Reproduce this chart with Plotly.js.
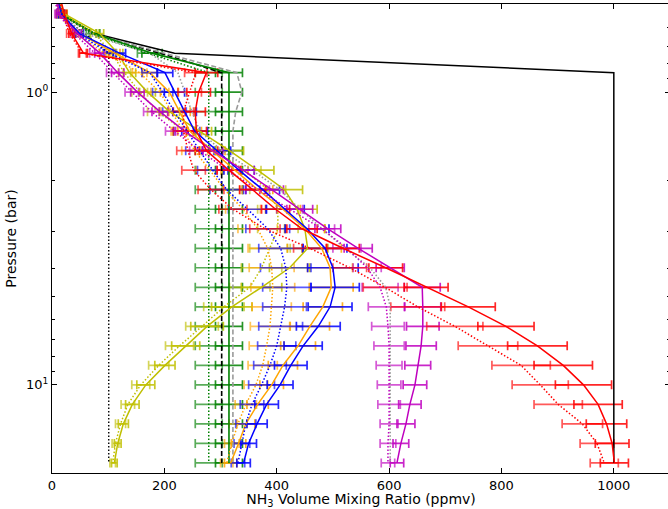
<!DOCTYPE html>
<html>
<head>
<meta charset="utf-8">
<script src="https://cdn.plot.ly/plotly-3.0.1.min.js"></script>
<style>
html,body{margin:0;padding:0;overflow:hidden;background:#fff;}
#chart{width:670px;height:509px;}
</style>
</head>
<body>
<div id="chart"></div>
<script>
// Pressure levels (bar)
const pressure = [0.464, 0.541, 0.631, 0.736, 0.858, 1.000, 1.166, 1.359, 1.585, 1.848, 2.154, 2.512, 2.929, 3.415, 3.981, 4.642, 5.412, 6.310, 7.356, 8.577, 10.00, 11.66, 13.59, 15.85, 18.48];

// NH3 profiles (ppmv)
const redSolid     = [13, 22, 35, 56, 275, 261, 255, 257, 275, 315, 357, 398, 445, 518, 594, 666, 741, 808, 864, 910, 946, 972, 987, 997, 1001];
const redDotted    = [10, 19, 31, 54, 256, 245, 234, 234, 242, 252, 283, 322, 379, 459, 530, 593, 651, 717, 776, 835, 869, 901, 944, 970, 983];
const magSolid     = [6, 13, 45, 85, 117, 152, 192, 236, 286, 340, 391, 441, 491, 545, 602, 659, 660, 660, 657, 651, 646, 637, 630, 621, 614];
const magDotted    = [4, 10, 40, 76, 108, 142, 177, 218, 263, 313, 366, 423, 480, 525, 561, 584, 595, 598, 600, 600, 600, 600, 600, 598, 598];
const blueSolid    = [8, 17, 49, 120, 201, 218, 236, 254, 293, 333, 375, 415, 454, 486, 500, 504, 495, 474, 447, 425, 406, 382, 365, 350, 341];
const blueDotted   = [6, 13, 45, 102, 174, 197, 218, 240, 263, 286, 311, 348, 384, 407, 416, 418, 414, 407, 400, 388, 373, 356, 345, 338, 331];
const orangeSolid  = [8, 15, 49, 111, 174, 209, 227, 245, 285, 325, 366, 411, 450, 480, 495, 497, 482, 459, 438, 411, 391, 366, 345, 332, 318];
const orangeDotted = [6, 12, 42, 94, 156, 192, 213, 233, 254, 281, 307, 340, 366, 384, 391, 393, 391, 388, 382, 375, 363, 345, 331, 320, 311];
const oliveSolid   = [10, 22, 85, 117, 138, 170, 209, 263, 316, 366, 414, 436, 450, 455, 423, 373, 320, 276, 238, 201, 167, 143, 127, 117, 111];
const oliveDotted  = [8, 19, 76, 106, 129, 156, 188, 236, 290, 343, 384, 402, 402, 388, 373, 352, 306, 267, 227, 190, 158, 135, 122, 113, 108];
const greenSolid   = [8, 17, 76, 178, 315, 315, 315, 315, 315, 315, 315, 315, 315, 315, 315, 315, 315, 315, 315, 315, 315, 315, 315, 315, 315];
const greenDotted  = [8, 15, 70, 170, 279, 279, 279, 279, 279, 279, 279, 279, 279, 279, 279, 279, 279, 279, 279, 279, 279, 279, 279, 279, 279];
const grayDashed   = [8, 17, 70, 200, 329, 338, 327, 322, 322, 322, 322, 322, 322, 322, 322, 322, 322, 322, 322, 322, 322, 322, 322, 322, 322];
const grayDotted   = [6, 13, 58, 174, 224, 236, 249, 263, 302, 356, 406, 441, 482, 521, 566, 594, 602, 602, 602, 602, 602, 602, 602, 602, 602];
const blackSolid   = [6, 15, 76, 218, 1000, 1000, 1000, 1000, 1000, 1000, 1000, 1000, 1000, 1000, 1000, 1000, 1000, 1000, 1000, 1000, 1000, 1000, 1000, 1000, 1000];
const blackDashed  = [8, 17, 72, 192, 302, 302, 302, 302, 302, 302, 302, 302, 302, 302, 302, 302, 302, 302, 302, 302, 302, 302, 302, 302, 302];
const blackDotted  = [4, 13, 58, 101, 101, 101, 101, 101, 101, 101, 101, 101, 101, 101, 101, 101, 101, 101, 101, 101, 101, 101, 101, 101, 101];

// Error-bar half widths (ppmv)
const redErr    = [2, 4, 5, 7, 20, 21, 18, 18, 20, 21, 23, 25, 27, 29, 30, 39, 48, 50, 53, 52, 50, 43, 36, 30, 25];
const magErr    = [2, 5, 7, 9, 11, 12, 14, 16, 18, 20, 21, 23, 23, 25, 25, 32, 32, 29, 27, 23, 21, 20, 16, 14, 12];
const blueErr   = [2, 5, 7, 11, 14, 18, 21, 23, 25, 27, 30, 34, 39, 39, 45, 43, 39, 39, 34, 29, 23, 21, 18, 14, 12];
const orangeErr = [2, 5, 6, 10, 13, 16, 19, 21, 23, 24, 27, 31, 35, 35, 40, 39, 35, 35, 31, 26, 21, 19, 16, 13, 11];
const oliveErr  = [2, 5, 7, 9, 11, 14, 18, 21, 25, 29, 32, 36, 36, 36, 36, 36, 36, 29, 25, 18, 16, 12, 9, 6, 5];
const greenErr  = [2, 5, 9, 18, 24, 24, 24, 24, 24, 24, 24, 24, 24, 24, 24, 24, 24, 24, 24, 24, 24, 24, 24, 24, 24];

const xTicks = [0, 200, 400, 600, 800, 1000];
const yTicks = [1, 10];
const yTickText = ['10<sup>0</sup>', '10<sup>1</sup>'];
const yMinor = [0.6, 0.7, 0.8, 0.9, 2, 3, 4, 5, 6, 7, 8, 9, 20];

const traces = [];
function bars(x, err, rgb, alpha) {
  traces.push({
    x: x, y: pressure, type: 'scatter', mode: 'markers', hoverinfo: 'skip',
    marker: {size: 1, color: 'rgba(0,0,0,0)'},
    error_x: {type: 'data', symmetric: true, array: err, color: 'rgba(' + rgb + ',' + alpha + ')', thickness: 1.7, width: 4.5}
  });
}
function line(x, color, dash, w) {
  traces.push({x: x, y: pressure, type: 'scatter', mode: 'lines', hoverinfo: 'skip',
    line: {color: color, dash: dash, width: w}});
}
const DOT = '1.5px,2px';

bars(greenDotted, greenErr, '0,128,0', 0.65);
bars(greenSolid, greenErr, '0,128,0', 0.85);
bars(oliveDotted, oliveErr, '191,191,0', 0.65);
bars(oliveSolid, oliveErr, '191,191,0', 0.85);
bars(orangeDotted, orangeErr, '255,165,0', 0.65);
bars(orangeSolid, orangeErr, '255,165,0', 0.85);
bars(blueDotted, blueErr, '0,0,255', 0.65);
bars(blueSolid, blueErr, '0,0,255', 0.85);
bars(magDotted, magErr, '191,0,191', 0.65);
bars(magSolid, magErr, '191,0,191', 0.85);
bars(redDotted, redErr, '255,0,0', 0.65);
bars(redSolid, redErr, '255,0,0', 0.85);

line(blackDotted, 'black', DOT, 1.4);
line(blackDashed, 'black', '5px,2.5px', 1.6);
line(blackSolid, 'black', 'solid', 1.5);
line(grayDotted, '#9a9a9a', DOT, 1.6);
line(grayDashed, '#9a9a9a', '5px,2.5px', 1.6);
line(greenDotted, '#008000', DOT, 1.5);
line(greenSolid, '#008000', 'solid', 1.6);
line(oliveDotted, '#bfbf00', DOT, 1.5);
line(oliveSolid, '#bfbf00', 'solid', 1.5);
line(orangeDotted, '#ffa500', DOT, 1.5);
line(orangeSolid, '#ffa500', 'solid', 1.5);
line(blueDotted, '#0000ff', DOT, 1.5);
line(blueSolid, '#0000ff', 'solid', 1.5);
line(magDotted, '#bf00bf', DOT, 1.5);
line(magSolid, '#bf00bf', 'solid', 1.5);
line(redDotted, '#ff0000', DOT, 1.5);
line(redSolid, '#ff0000', 'solid', 1.5);

const layout = {
  width: 670, height: 509,
  margin: {l: 52, r: 0, t: 4, b: 36},
  paper_bgcolor: 'white', plot_bgcolor: 'white',
  showlegend: false,
  font: {family: 'DejaVu Sans, sans-serif', size: 13, color: 'black'},
  xaxis: {
    range: [0, 1100], tickmode: 'array', tickvals: xTicks,
    ticks: 'inside', ticklen: 5, tickcolor: 'black', tickwidth: 1,
    showline: true, linecolor: 'black', linewidth: 1, mirror: 'ticks',
    showgrid: false, zeroline: false,
    title: {text: 'NH<sub>3</sub> Volume Mixing Ratio (ppmv)', font: {size: 14}, standoff: 2}
  },
  yaxis: {
    type: 'log', range: [Math.log10(20), Math.log10(0.5)],
    tickmode: 'array', tickvals: yTicks, ticktext: yTickText,
    ticks: 'inside', ticklen: 5, tickcolor: 'black', tickwidth: 1,
    minor: {tickmode: 'array', tickvals: yMinor, ticks: 'inside', ticklen: 3, tickcolor: 'black', showgrid: false},
    showline: true, linecolor: 'black', linewidth: 1, mirror: 'ticks',
    showgrid: false, zeroline: false,
    title: {text: 'Pressure (bar)', font: {size: 14}, standoff: 6}
  }
};

Plotly.newPlot('chart', traces, layout, {displayModeBar: false, staticPlot: true});
</script>
</body>
</html>
